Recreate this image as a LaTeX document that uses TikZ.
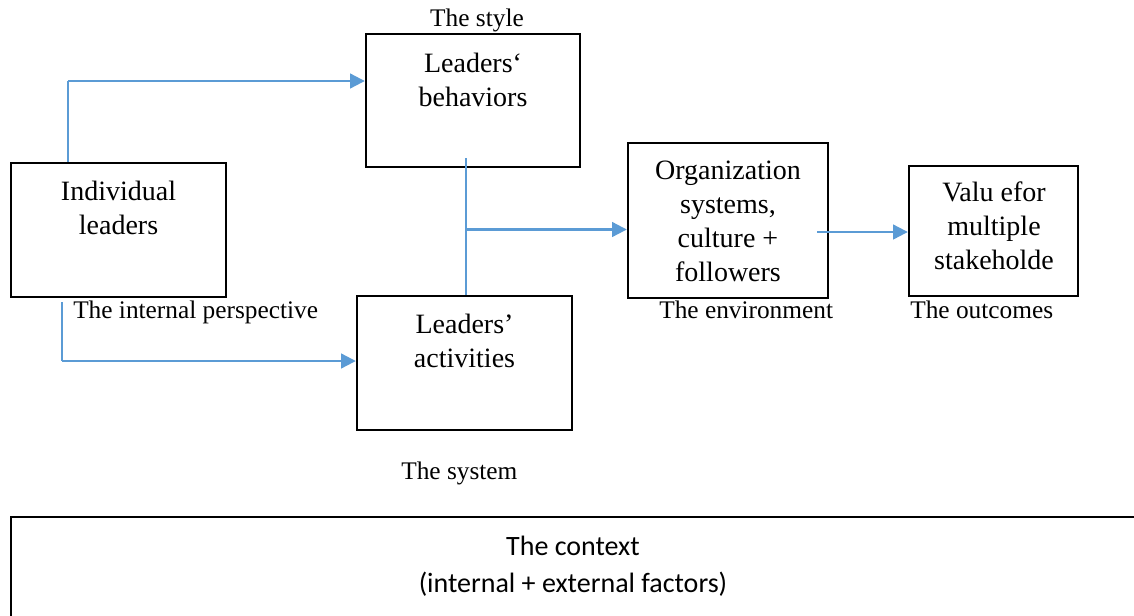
\documentclass[tikz,border=0pt]{standalone}
\usepackage{fontspec}
\setmainfont{Liberation Serif}
\usetikzlibrary{arrows.meta,calc}
\definecolor{arrowblue}{RGB}{91,155,213}
\newcommand\boxlines[1]{{\fontsize{21}{25.5}\selectfont\begin{tabular}[t]{@{}c@{}}#1\end{tabular}}}
\newcommand\lblfont{\fontsize{19}{22}\selectfont}
\newcommand\ctxfont{\fontspec{Carlito}\fontsize{21}{25}\selectfont}
\begin{document}
\begin{tikzpicture}[x=0.75pt,y=-0.75pt,
  box/.style={draw=black, line width=1.8pt, rectangle, inner sep=0pt},
  boxtext/.style={inner sep=0pt, anchor=base},
  lbl/.style={inner sep=0pt, anchor=base west},
  ctxtext/.style={inner sep=0pt, anchor=base},
  arr/.style={draw=arrowblue, line width=1.6pt, -{Triangle[length=11pt,width=11pt]}},
  vline/.style={draw=arrowblue, line width=0.8pt}]
\useasboundingbox (0,0) rectangle (1134,615);
\clip (0,0) rectangle (1134,615);

% boxes
\node[box, minimum width=215*0.75pt, minimum height=134*0.75pt] (ind) at (118.5,230) {};
\node[box, minimum width=214*0.75pt, minimum height=133*0.75pt] (beh) at (473,100.5) {};
\node[box, minimum width=215*0.75pt, minimum height=134*0.75pt] (act) at (464.5,363) {};
\node[box, minimum width=200*0.75pt, minimum height=155*0.75pt] (org) at (728,220.5) {};
\node[box, minimum width=169*0.75pt, minimum height=130*0.75pt] (val) at (993.5,231) {};
\node[box, line width=2pt, minimum width=1139*0.75pt, minimum height=123*0.75pt] (ctx) at (580.5,578.5) {};

% box texts
\node[boxtext] (tind) at (118.5,200.7) {\boxlines{Individual\\leaders}};
\node[boxtext] (tbeh) at (473,72) {\boxlines{Leaders‘\\behaviors}};
\node[boxtext] (tact) at (464.5,333.3) {\boxlines{Leaders’\\activities}};
\node[boxtext] (torg) at (728,179) {\boxlines{Organization\\systems,\\culture +\\followers}};
\node[boxtext] (tval) at (994,201.7) {\boxlines{Valu efor\\multiple\\stakeholde}};

% labels
\node[lbl, anchor=base] (lstyle) at (477,26) {\lblfont The style};
\node[lbl] (lint) at (73,318) {\lblfont The internal perspective};
\node[lbl] (lenv) at (659,318) {\lblfont The environment};
\node[lbl] (lout) at (910,318) {\lblfont The outcomes};
\node[lbl] (lsys) at (401,479) {\lblfont The system};
\node[ctxtext] (c1) at (573,555) {\ctxfont The context};
\node[ctxtext] (c2) at (573,592) {\ctxfont (internal + external factors)};

% connectors
\coordinate (j1) at (68,81);
\draw[vline] (ind.north -| j1) -- (j1);
\draw[arr] (j1) -- (j1 -| beh.west);

\coordinate (j2top) at (62,302);
\coordinate (j2) at (62,361);
\draw[vline] (j2top) -- (j2);
\draw[arr] (j2) -- (j2 -| act.west);

\coordinate (j3top) at (466,158);
\coordinate (j3) at (466,229.5);
\draw[vline] (j3top) -- (j3top |- act.north);
\draw[arr] (j3) -- (j3 -| org.west);

\coordinate (j4) at (817,232);
\draw[arr] (j4) -- (j4 -| val.west);
\end{tikzpicture}
\end{document}
